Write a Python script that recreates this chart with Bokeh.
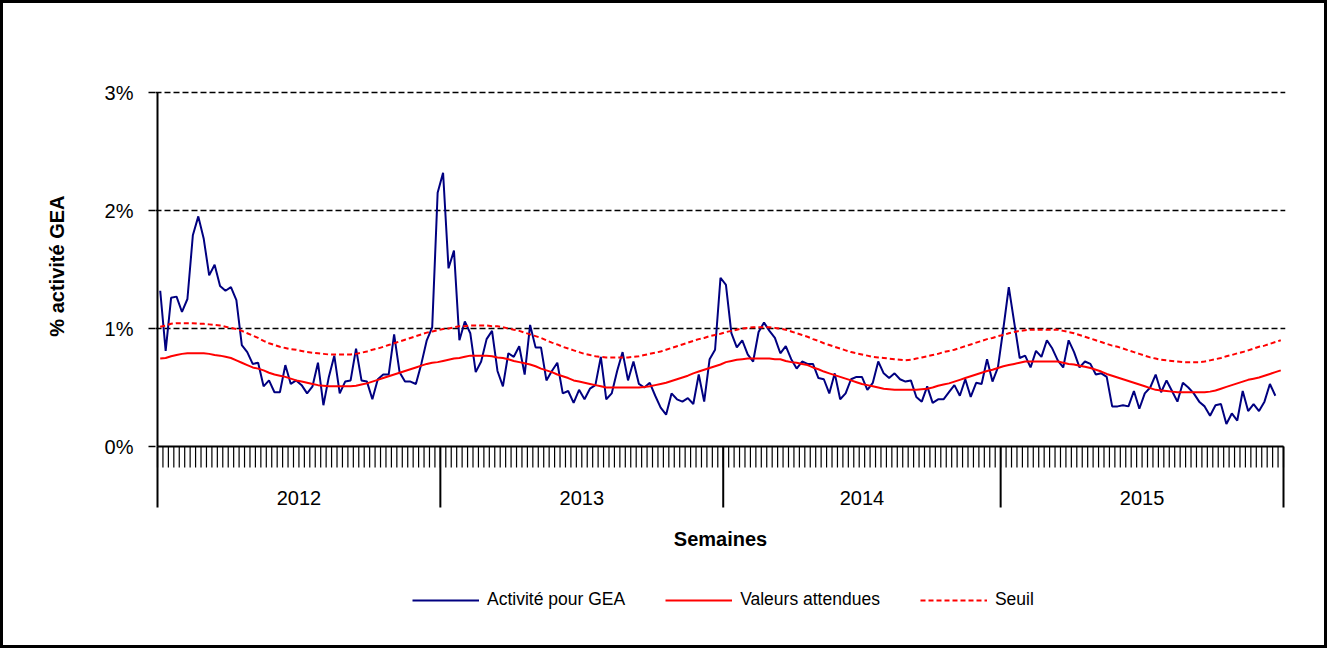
from bokeh.plotting import figure
from bokeh.layouts import column
from bokeh.models import Range1d, FixedTicker, Legend, LegendItem, Title
from bokeh.core.properties import value
from bokeh.embed import file_html
from bokeh.resources import INLINE

# ---------------- data ----------------
years = ["2012", "2013", "2014", "2015"]
weeks_per_year = [52, 52, 51, 52]
y_ticks = [0, 1, 2, 3]
y_tick_labels = ["0%", "1%", "2%", "3%"]
series_names = ["Activité pour GEA", "Valeurs attendues", "Seuil"]
x_title = "Semaines"
y_title = "% activité GEA"

activite = [
    1.32, 0.81, 1.26, 1.27, 1.14, 1.25, 1.79, 1.95, 1.76, 1.45,
    1.54, 1.36, 1.32, 1.35, 1.24, 0.86, 0.80, 0.70, 0.71, 0.51,
    0.56, 0.46, 0.46, 0.69, 0.53, 0.56, 0.52, 0.45, 0.51, 0.71,
    0.35, 0.59, 0.77, 0.45, 0.55, 0.56, 0.83, 0.56, 0.55, 0.40,
    0.57, 0.61, 0.61, 0.95, 0.63, 0.55, 0.55, 0.53, 0.70, 0.90,
    1.01, 2.15, 2.32, 1.51, 1.66, 0.90, 1.06, 0.96, 0.63, 0.72,
    0.91, 0.98, 0.64, 0.51, 0.79, 0.76, 0.85, 0.61, 1.03, 0.84,
    0.84, 0.56, 0.64, 0.71, 0.45, 0.47, 0.37, 0.48, 0.40, 0.49,
    0.52, 0.76, 0.40, 0.45, 0.64, 0.80, 0.56, 0.72, 0.53, 0.50,
    0.54, 0.43, 0.33, 0.27, 0.45, 0.40, 0.38, 0.41, 0.36, 0.61,
    0.38, 0.74, 0.82, 1.43, 1.37, 0.96, 0.84, 0.90, 0.78, 0.72,
    0.97, 1.05, 0.98, 0.92, 0.79, 0.85, 0.74, 0.66, 0.72, 0.70,
    0.70, 0.58, 0.57, 0.45, 0.62, 0.40, 0.45, 0.57, 0.59, 0.59,
    0.48, 0.54, 0.72, 0.62, 0.58, 0.62, 0.57, 0.55, 0.56, 0.42,
    0.38, 0.51, 0.37, 0.40, 0.40, 0.46, 0.52, 0.43, 0.57, 0.42,
    0.54, 0.53, 0.74, 0.55, 0.67, 1.00, 1.35, 1.05, 0.75, 0.77,
    0.67, 0.81, 0.76, 0.90, 0.83, 0.73, 0.67, 0.90, 0.80, 0.67,
    0.72, 0.70, 0.61, 0.62, 0.59, 0.34, 0.34, 0.35, 0.34, 0.47,
    0.32, 0.45, 0.50, 0.61, 0.46, 0.56, 0.47, 0.38, 0.54, 0.50,
    0.45, 0.38, 0.34, 0.26, 0.35, 0.36, 0.19, 0.28, 0.22, 0.47,
    0.30, 0.36, 0.30, 0.38, 0.53, 0.43,
]

attendues = [
    0.745, 0.75, 0.765, 0.775, 0.785, 0.79, 0.79, 0.79, 0.79, 0.785,
    0.775, 0.77, 0.76, 0.75, 0.73, 0.71, 0.69, 0.67, 0.66, 0.645,
    0.625, 0.61, 0.60, 0.59, 0.575, 0.56, 0.55, 0.54, 0.53, 0.52,
    0.515, 0.51, 0.51, 0.51, 0.51, 0.51, 0.515, 0.525, 0.535, 0.55,
    0.565, 0.58, 0.595, 0.61, 0.625, 0.64, 0.655, 0.67, 0.685, 0.70,
    0.71, 0.715, 0.725, 0.735, 0.745, 0.75, 0.76, 0.77, 0.77, 0.77,
    0.77, 0.765, 0.755, 0.75, 0.74, 0.725, 0.715, 0.705, 0.695, 0.68,
    0.66, 0.645, 0.63, 0.61, 0.595, 0.58, 0.56, 0.55, 0.54, 0.53,
    0.52, 0.51, 0.50, 0.50, 0.50, 0.50, 0.50, 0.50, 0.50, 0.505,
    0.51, 0.52, 0.53, 0.54, 0.555, 0.57, 0.585, 0.60, 0.62, 0.635,
    0.65, 0.665, 0.68, 0.695, 0.715, 0.725, 0.735, 0.74, 0.745, 0.745,
    0.745, 0.745, 0.745, 0.74, 0.74, 0.725, 0.715, 0.71, 0.70, 0.69,
    0.67, 0.655, 0.635, 0.62, 0.605, 0.59, 0.575, 0.56, 0.545, 0.53,
    0.52, 0.51, 0.50, 0.49, 0.485, 0.48, 0.48, 0.48, 0.48, 0.48,
    0.485, 0.49, 0.50, 0.515, 0.525, 0.535, 0.55, 0.565, 0.58, 0.595,
    0.61, 0.625, 0.64, 0.65, 0.665, 0.68, 0.69, 0.70, 0.71, 0.72,
    0.72, 0.72, 0.72, 0.72, 0.72, 0.72, 0.71, 0.70, 0.695, 0.685,
    0.675, 0.665, 0.65, 0.635, 0.615, 0.60, 0.585, 0.57, 0.555, 0.54,
    0.525, 0.51, 0.495, 0.48, 0.475, 0.47, 0.465, 0.46, 0.46, 0.46,
    0.46, 0.46, 0.46, 0.465, 0.475, 0.49, 0.505, 0.52, 0.535, 0.55,
    0.565, 0.575, 0.585, 0.60, 0.615, 0.63, 0.645,
]

seuil = [
    1.015, 1.025, 1.04, 1.045, 1.045, 1.045, 1.045, 1.04, 1.04, 1.035,
    1.03, 1.025, 1.015, 1.005, 0.995, 0.98, 0.96, 0.94, 0.92, 0.895,
    0.875, 0.86, 0.845, 0.835, 0.825, 0.82, 0.81, 0.80, 0.795, 0.79,
    0.785, 0.78, 0.78, 0.78, 0.78, 0.78, 0.785, 0.795, 0.805, 0.82,
    0.83, 0.845, 0.86, 0.875, 0.89, 0.905, 0.92, 0.935, 0.95, 0.965,
    0.975, 0.985, 0.995, 1.00, 1.01, 1.02, 1.02, 1.025, 1.025, 1.025,
    1.025, 1.02, 1.02, 1.01, 1.00, 0.99, 0.98, 0.965, 0.95, 0.935,
    0.92, 0.90, 0.88, 0.865, 0.845, 0.83, 0.815, 0.80, 0.785, 0.775,
    0.765, 0.76, 0.755, 0.755, 0.755, 0.755, 0.755, 0.76, 0.765, 0.775,
    0.785, 0.795, 0.805, 0.82, 0.835, 0.85, 0.865, 0.88, 0.895, 0.91,
    0.92, 0.935, 0.945, 0.955, 0.97, 0.98, 0.99, 1.00, 1.005, 1.01,
    1.01, 1.01, 1.01, 1.005, 1.00, 0.99, 0.975, 0.96, 0.945, 0.93,
    0.91, 0.895, 0.875, 0.86, 0.845, 0.83, 0.815, 0.80, 0.79, 0.78,
    0.77, 0.76, 0.755, 0.75, 0.745, 0.74, 0.735, 0.73, 0.735, 0.745,
    0.755, 0.765, 0.775, 0.785, 0.80, 0.81, 0.82, 0.835, 0.85, 0.865,
    0.88, 0.895, 0.91, 0.92, 0.935, 0.945, 0.96, 0.97, 0.98, 0.985,
    0.99, 0.99, 0.99, 0.99, 0.99, 0.99, 0.98, 0.97, 0.96, 0.945,
    0.93, 0.915, 0.90, 0.885, 0.87, 0.855, 0.845, 0.83, 0.815, 0.80,
    0.785, 0.77, 0.755, 0.745, 0.735, 0.73, 0.725, 0.72, 0.715, 0.715,
    0.715, 0.715, 0.72, 0.73, 0.74, 0.75, 0.765, 0.775, 0.79, 0.80,
    0.815, 0.83, 0.845, 0.855, 0.87, 0.885, 0.90,
]

# ---------------- layout constants (pixels) ----------------
FONT = "Liberation Sans"
W, H = 1321, 642                   # figure size (plus a 3px border around it)
AXIS_LEFT, AXIS_RIGHT = 154, 1280  # pixel span of the week categories
Y0_PX, Y3_PX = 443, 89             # pixel rows of 0% and 3%
PAD = 2                            # keep edge lines away from the clip edge
FRAME_BOTTOM = 637

# ---------------- derived positions ----------------
n_weeks = sum(weeks_per_year)
x_act = list(range(len(activite)))
x_all = list(range(len(attendues)))

bounds = [-0.5]
for w in weeks_per_year:
    bounds.append(bounds[-1] + w)
centers = [(bounds[k] + bounds[k + 1]) / 2 for k in range(len(years))]
week_bounds = [i - 0.5 for i in range(n_weeks + 1)]

ppx = (AXIS_RIGHT - AXIS_LEFT) / (bounds[-1] - bounds[0])   # px per week
ppy = (Y0_PX - Y3_PX) / (y_ticks[-1] - y_ticks[0])          # px per %
dy = lambda px: px / ppy                                    # px -> data units

x_start, x_end = bounds[0] - PAD / ppx, bounds[-1] + PAD / ppx
y_end = y_ticks[-1] + PAD / ppy
y_start = y_end - (FRAME_BOTTOM - (Y3_PX - PAD)) / ppy

p = figure(width=W, height=H, output_backend="svg", toolbar_location=None,
           x_range=Range1d(x_start, x_end), y_range=Range1d(y_start, y_end),
           x_axis_location=None,
           min_border_left=AXIS_LEFT - PAD, min_border_right=W - AXIS_RIGHT - PAD,
           min_border_top=Y3_PX - PAD, min_border_bottom=H - FRAME_BOTTOM)
p.outline_line_color = None
p.background_fill_color = "white"
p.border_fill_color = "white"
for g in p.grid:
    if g.dimension == 0:
        g.visible = False

# y axis (ticks + labels), its line is drawn below from 0 up to 3 %
ya = p.yaxis[0]
ya.ticker = FixedTicker(ticks=y_ticks)
ya.major_label_overrides = dict(zip(y_ticks, y_tick_labels))
ya.axis_line_color = None
ya.major_tick_out = 7
ya.major_tick_in = 0
ya.major_tick_line_color = "black"
ya.major_tick_line_width = 1.5
ya.minor_tick_line_color = None
ya.major_label_standoff = 15
ya.major_label_text_font = FONT
ya.major_label_text_font_size = "20px"
ya.major_label_text_color = "black"

p.add_layout(Title(text=y_title, align="right", offset=105, standoff=67,
                   text_font=FONT, text_font_size="20px", text_font_style="bold",
                   text_color="black"), "left")

yg = [g for g in p.grid if g.dimension == 1][0]
yg.ticker = FixedTicker(ticks=y_ticks[1:])
yg.grid_line_color = "black"
yg.grid_line_dash = "6 3"
yg.grid_line_width = 1.3

# category axis: line, week ticks, year separators, year labels, title
sep_len, tick_len = dy(61), dy(21)
p.segment(x0=[bounds[0]], y0=[0], x1=[bounds[0]], y1=[y_ticks[-1]],
          line_color="black", line_width=2)
p.segment(x0=week_bounds, y0=[0] * len(week_bounds), x1=week_bounds,
          y1=[-tick_len] * len(week_bounds), line_color="black", line_width=1.2)
p.segment(x0=bounds, y0=[0] * len(bounds), x1=bounds, y1=[-sep_len] * len(bounds),
          line_color="black", line_width=2)
p.segment(x0=[bounds[0]], y0=[0], x1=[bounds[-1]], y1=[0],
          line_color="black", line_width=2)
p.text(x=centers, y=[-dy(51)] * len(centers), text=years,
       text_align="center", text_baseline="middle",
       text_font=value(FONT), text_font_size="20px", text_color="black")
p.text(x=[(bounds[0] + bounds[-1]) / 2], y=[-dy(92)], text=[x_title],
       text_align="center", text_baseline="middle", text_font=value(FONT),
       text_font_size="20px", text_font_style="bold", text_color="black")

# series
r1 = p.line(x_act, activite, line_color="#000080", line_width=2)
r2 = p.line(x_all, attendues, line_color="#FF0000", line_width=2)
r3 = p.line(x_all, seuil, line_color="#FF0000", line_width=2, line_dash="5 3")

legend = Legend(items=[LegendItem(label=series_names[0], renderers=[r1]),
                       LegendItem(label=series_names[1], renderers=[r2]),
                       LegendItem(label=series_names[2], renderers=[r3])],
                orientation="horizontal", location=(257, 30),
                glyph_width=67, glyph_height=20, label_standoff=8, spacing=40,
                label_text_font=FONT, label_text_font_size="17.5px",
                label_text_color="black",
                border_line_color=None, background_fill_alpha=0,
                margin=0, padding=10)
p.add_layout(legend)

page = column(p, styles={"border": "3px solid black"})
open("out.html", "w").write(file_html(page, INLINE))
